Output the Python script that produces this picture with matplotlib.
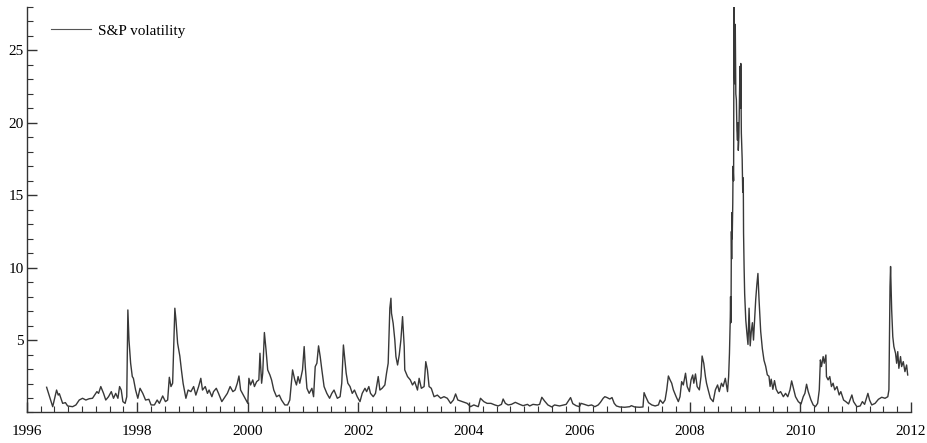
"""
S&P volatility chart (1996-2012), single line with a frameless legend.
Values were read off the reference picture, as decimal years.
"""

import matplotlib
matplotlib.use("Agg")
import matplotlib.pyplot as plt
import matplotlib.ticker as mticker

# ── data (decimal year, volatility) ──

years = [
    1996.36, 1996.47, 1996.54, 1996.57, 1996.59, 1996.65, 1996.70, 1996.74, 1996.83, 1996.89, 1996.95,
    1997.01, 1997.07, 1997.13, 1997.19, 1997.27, 1997.30, 1997.34, 1997.39, 1997.43, 1997.48, 1997.53,
    1997.57, 1997.61, 1997.65, 1997.68, 1997.71, 1997.74, 1997.78, 1997.81, 1997.83, 1997.85, 1997.88,
    1997.91, 1997.93, 1997.97,
    1998.01, 1998.05, 1998.10, 1998.15, 1998.21, 1998.25, 1998.31, 1998.36, 1998.40, 1998.46, 1998.51,
    1998.55, 1998.58, 1998.61, 1998.64, 1998.68, 1998.70, 1998.73, 1998.77, 1998.80, 1998.83, 1998.88,
    1998.92, 1998.97,
    1999.02, 1999.06, 1999.11, 1999.15, 1999.18, 1999.23, 1999.27, 1999.30, 1999.35, 1999.38, 1999.43,
    1999.47, 1999.53, 1999.59, 1999.63, 1999.68, 1999.73, 1999.77, 1999.81, 1999.84, 1999.87, 1999.92,
    1999.97,
    2000.00, 2000.02, 2000.05, 2000.09, 2000.12, 2000.16, 2000.20, 2000.22, 2000.25, 2000.27, 2000.30,
    2000.33, 2000.36, 2000.40, 2000.43, 2000.47, 2000.52, 2000.57, 2000.61, 2000.67, 2000.72, 2000.76,
    2000.81, 2000.85, 2000.88, 2000.91, 2000.94, 2000.99,
    2001.02, 2001.04, 2001.07, 2001.11, 2001.16, 2001.19, 2001.22, 2001.25, 2001.28, 2001.31, 2001.34,
    2001.38, 2001.43, 2001.48, 2001.52, 2001.56, 2001.62, 2001.67, 2001.70, 2001.73, 2001.75, 2001.78,
    2001.81, 2001.85, 2001.89, 2001.93, 2001.98,
    2002.03, 2002.07, 2002.12, 2002.15, 2002.19, 2002.22, 2002.27, 2002.31, 2002.36, 2002.39, 2002.43,
    2002.48, 2002.51, 2002.54, 2002.57, 2002.59, 2002.60, 2002.63, 2002.66, 2002.68, 2002.71, 2002.74,
    2002.77, 2002.80, 2002.83, 2002.84, 2002.89, 2002.94, 2002.98,
    2003.02, 2003.07, 2003.10, 2003.14, 2003.19, 2003.22, 2003.25, 2003.28, 2003.32, 2003.37, 2003.43,
    2003.49, 2003.55, 2003.61, 2003.67, 2003.72, 2003.76, 2003.80, 2003.88, 2003.97,
    2004.03, 2004.09, 2004.17, 2004.21, 2004.27, 2004.33, 2004.40, 2004.47, 2004.53, 2004.59, 2004.62,
    2004.66, 2004.71, 2004.77, 2004.84, 2004.92, 2004.98,
    2005.06, 2005.10, 2005.16, 2005.24, 2005.28, 2005.32, 2005.37, 2005.43, 2005.50, 2005.55, 2005.64,
    2005.72, 2005.76, 2005.81, 2005.84, 2005.88, 2005.94,
    2006.00, 2006.03, 2006.09, 2006.16, 2006.22, 2006.28, 2006.34, 2006.38, 2006.43, 2006.46, 2006.50,
    2006.55, 2006.59, 2006.63, 2006.67, 2006.73, 2006.82, 2006.91, 2006.94,
    2007.00, 2007.09, 2007.15, 2007.17, 2007.20, 2007.25, 2007.31, 2007.37, 2007.43, 2007.46, 2007.51,
    2007.55, 2007.58, 2007.61, 2007.64, 2007.67, 2007.70, 2007.75, 2007.79, 2007.82, 2007.85, 2007.88,
    2007.92, 2007.95, 2007.99,
    2008.02, 2008.05, 2008.07, 2008.10, 2008.13, 2008.17, 2008.20, 2008.22, 2008.25, 2008.28, 2008.30,
    2008.33, 2008.37, 2008.42, 2008.46, 2008.50, 2008.53, 2008.57, 2008.60, 2008.64, 2008.68, 2008.70,
    2008.715, 2008.73, 2008.735, 2008.74, 2008.745, 2008.75, 2008.755, 2008.76, 2008.765, 2008.775,
    2008.78, 2008.79, 2008.795, 2008.80, 2008.805, 2008.81, 2008.82, 2008.83, 2008.84, 2008.85,
    2008.86, 2008.87, 2008.875, 2008.885, 2008.89, 2008.90, 2008.905, 2008.915, 2008.92, 2008.93,
    2008.94, 2008.945, 2008.955, 2008.965, 2008.97, 2008.98, 2008.99,
    2009.01, 2009.03, 2009.05, 2009.07, 2009.09, 2009.11, 2009.13, 2009.15, 2009.17, 2009.19, 2009.21,
    2009.23, 2009.25, 2009.28, 2009.31, 2009.34, 2009.37, 2009.40, 2009.43, 2009.45, 2009.47, 2009.50,
    2009.53, 2009.56, 2009.60, 2009.64, 2009.69, 2009.73, 2009.77, 2009.81, 2009.84, 2009.88, 2009.91,
    2009.96,
    2010.01, 2010.05, 2010.08, 2010.11, 2010.14, 2010.19, 2010.23, 2010.27, 2010.31, 2010.34, 2010.36,
    2010.38, 2010.41, 2010.43, 2010.46, 2010.47, 2010.50, 2010.53, 2010.56, 2010.59, 2010.62, 2010.66,
    2010.70, 2010.73, 2010.78, 2010.82, 2010.87, 2010.93, 2010.96,
    2011.02, 2011.08, 2011.12, 2011.16, 2011.22, 2011.25, 2011.29, 2011.35, 2011.41, 2011.47, 2011.53,
    2011.58, 2011.60, 2011.62, 2011.63, 2011.65, 2011.67, 2011.69, 2011.72, 2011.74, 2011.76, 2011.78,
    2011.81, 2011.83, 2011.86, 2011.89, 2011.92, 2011.94,
]

volatility = [
    1.74, 0.40, 1.55, 1.20, 1.30, 0.63, 0.68, 0.45, 0.40, 0.52, 0.86,
    0.98, 0.86, 0.95, 0.98, 1.44, 1.32, 1.79, 1.32, 0.86, 1.09, 1.44,
    0.98, 1.32, 0.98, 1.79, 1.55, 0.75, 0.63, 1.09, 7.08, 5.01, 3.40,
    2.48, 2.36, 1.55,
    0.98, 1.67, 1.32, 0.86, 0.91, 0.52, 0.52, 0.86, 0.63, 1.14, 0.75,
    0.86, 2.43, 1.79, 2.02, 7.20, 6.39, 4.78, 3.90, 2.90, 2.00, 0.98,
    1.55, 1.44,
    1.79, 1.20, 1.79, 2.36, 1.55, 1.79, 1.32, 1.55, 1.09, 1.44, 1.67,
    1.32, 0.75, 1.09, 1.32, 1.79, 1.44, 1.55, 2.02, 2.52, 1.55, 1.20,
    0.86,
    0.63, 2.36, 1.90, 2.25, 1.79, 2.13, 2.25, 4.09, 2.02, 2.71, 5.52,
    4.32, 2.94, 2.59, 2.25, 1.55, 1.09, 1.20, 0.86, 0.52, 0.52, 0.86,
    2.94, 2.25, 1.90, 2.48, 2.02, 2.94,
    4.55, 3.17, 1.67, 1.32, 1.67, 1.09, 3.17, 3.40, 4.60, 3.86, 2.94,
    1.79, 1.32, 0.98, 1.32, 1.55, 0.98, 1.09, 2.02, 4.66, 3.86, 2.71,
    2.02, 1.79, 1.32, 1.55, 1.09,
    0.75, 1.32, 1.67, 1.44, 1.79, 1.32, 1.09, 1.32, 2.48, 1.55, 1.67,
    1.90, 2.71, 3.40, 7.20, 7.89, 6.85, 6.16, 5.01, 3.86, 3.28, 3.97,
    5.01, 6.62, 4.55, 2.94, 2.48, 2.25, 1.90,
    2.13, 1.55, 2.36, 1.67, 1.79, 3.51, 2.94, 1.79, 1.67, 1.09, 1.20,
    0.98, 1.09, 0.98, 0.63, 0.86, 1.28, 0.86, 0.75, 0.63,
    0.40, 0.52, 0.40, 0.98, 0.75, 0.63, 0.63, 0.52, 0.45, 0.56, 0.93,
    0.63, 0.52, 0.56, 0.70, 0.56, 0.47,
    0.56, 0.45, 0.56, 0.52, 0.56, 1.05, 0.79, 0.52, 0.38, 0.52, 0.45,
    0.52, 0.56, 0.86, 1.03, 0.61, 0.47,
    0.40, 0.63, 0.56, 0.47, 0.52, 0.40, 0.52, 0.70, 0.98, 1.09, 1.03,
    0.93, 1.03, 0.63, 0.45, 0.38, 0.36, 0.40, 0.47,
    0.38, 0.36, 0.38, 1.37, 1.09, 0.68, 0.52, 0.45, 0.52, 0.86, 0.63,
    0.86, 1.56, 2.52, 2.25, 2.02, 1.56, 1.09, 0.75, 1.09, 2.13, 1.90,
    2.71, 1.79, 1.44,
    2.25, 2.59, 2.02, 2.66, 1.79, 1.56, 2.48, 3.90, 3.40, 2.48, 2.02,
    1.56, 0.98, 0.75, 1.56, 1.90, 1.44, 2.02, 1.79, 2.36, 1.44, 2.48,
    4.09, 6.60, 8.00, 6.20, 8.20, 12.5, 10.6, 13.8, 12.0, 14.5,
    17.0, 16.0, 25.0, 28.0, 23.5, 22.7, 26.8, 22.0, 21.6, 19.5,
    18.8, 20.0, 18.1, 19.0, 20.2, 22.5, 23.9, 21.0, 24.1, 19.3,
    18.2, 17.5, 15.2, 16.2, 12.4, 10.0, 8.20,
    6.40, 5.50, 4.70, 7.20, 4.60, 5.60, 6.20, 5.00, 6.40, 7.80, 8.80,
    9.60, 7.80, 5.60, 4.40, 3.60, 3.20, 2.60, 2.50, 1.80, 2.30, 1.60,
    2.20, 1.60, 1.32, 1.44, 1.09, 1.32, 1.09, 1.56, 2.18, 1.56, 1.09,
    0.75,
    0.59, 1.09, 1.32, 1.95, 1.44, 0.86, 0.52, 0.40, 0.63, 1.56, 3.63,
    3.17, 3.86, 3.40, 3.97, 2.48, 2.25, 2.48, 1.79, 2.02, 1.56, 1.79,
    1.21, 1.44, 0.86, 0.75, 0.59, 1.21, 0.75,
    0.40, 0.45, 0.75, 0.56, 1.32, 0.86, 0.52, 0.63, 0.91, 1.05, 0.98,
    1.09, 1.56, 8.70, 10.08, 7.08, 5.24, 4.55, 4.09, 3.40, 4.20, 3.05,
    3.86, 3.17, 3.51, 2.82, 3.28, 2.59,
]

label = "S&P volatility"
x_major = [1996, 1998, 2000, 2002, 2004, 2006, 2008, 2010, 2012]
y_major = [5, 10, 15, 20, 25]

line_color = "#383838"
axis_color = "#333333"

plt.rcParams["font.family"] = ["Liberation Serif", "DejaVu Serif"]
plt.rcParams["font.size"] = 11

fig = plt.figure(figsize=(9.28, 4.43), dpi=100)
ax = fig.add_axes([0.0288, 0.0689, 0.9529, 0.9153])

ax.plot(years, volatility, color=line_color, linewidth=1.0, label=label)

ax.set_xlim(1996, 2012)
ax.set_ylim(0, 28)

# 軸まわり: 左と下のみ、目盛りは内向き
for side in ("top", "right"):
    ax.spines[side].set_visible(False)
for side in ("left", "bottom"):
    ax.spines[side].set_color(axis_color)
    ax.spines[side].set_linewidth(1.0)

ax.set_xticks(x_major)
ax.set_xticklabels([str(y) for y in x_major])
ax.xaxis.set_minor_locator(mticker.MultipleLocator(0.25))
ax.set_yticks(y_major)
ax.yaxis.set_minor_locator(mticker.MultipleLocator(1))

ax.tick_params(axis="both", which="both", direction="in", colors=axis_color, labelcolor="black")
ax.tick_params(axis="both", which="major", length=7, width=1.0)
ax.tick_params(axis="both", which="minor", length=4, width=0.8)
ax.tick_params(axis="x", which="major", pad=9)
ax.tick_params(axis="y", which="major", pad=2)

ax.legend(loc="upper left", bbox_to_anchor=(0.0275, 0.958), frameon=False,
          borderaxespad=0, borderpad=0, handlelength=2.6, handletextpad=0.45,
          fontsize=11)
leg = ax.get_legend()
leg.get_lines()[0].set_color("#555555")
leg.get_lines()[0].set_linewidth(0.8)

fig.savefig("out.png", dpi=100)
plt.close(fig)
